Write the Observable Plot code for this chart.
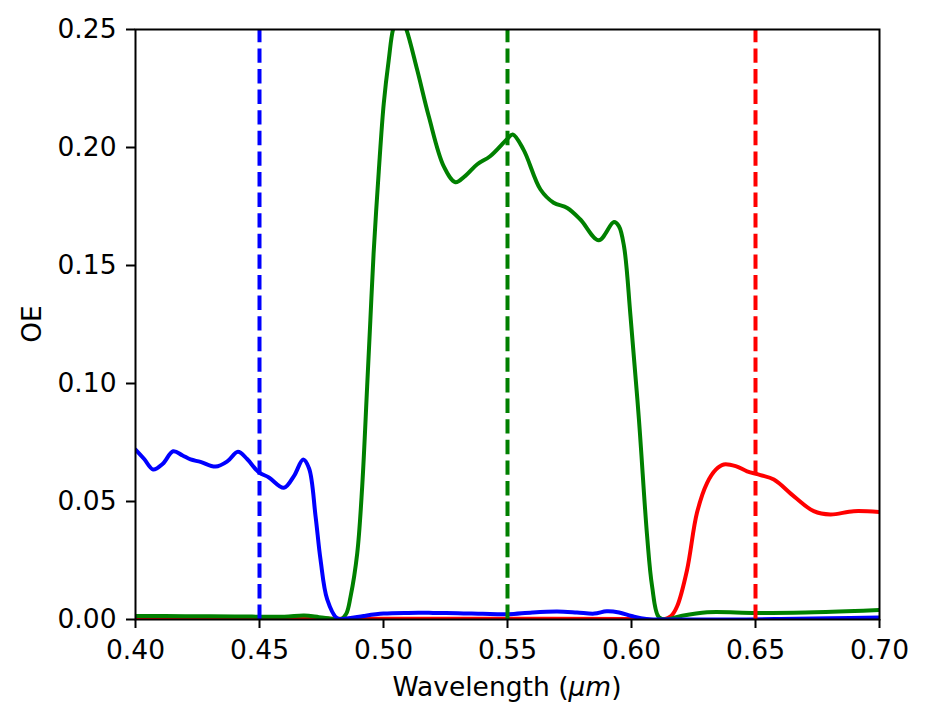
<!DOCTYPE html>
<html>
<head>
<meta charset="utf-8">
<script src="https://cdn.jsdelivr.net/npm/d3@7"></script>
<script src="https://cdn.jsdelivr.net/npm/@observablehq/plot@0.6"></script>
<style>
  html, body { margin: 0; padding: 0; background: #fff; }
</style>
</head>
<body>
<div id="chart"></div>
<script>
// Wavelength (µm) and OE values
const blueX = [0.400,0.4035,0.4071,0.411,0.4152,0.419,0.4222,0.4262,0.4323,0.437,0.4413,0.445,0.4497,0.4538,0.4598,0.464,0.4676,0.4700,0.4726,0.4746,0.4773,0.4813,0.486,0.492,0.500,0.510,0.520,0.530,0.540,0.550,0.560,0.570,0.578,0.585,0.590,0.595,0.600,0.606,0.620,0.640,0.660,0.680,0.700];
const blueY = [0.0720,0.0680,0.0636,0.0660,0.0713,0.0695,0.0678,0.0668,0.0648,0.0670,0.0711,0.0680,0.0624,0.0602,0.0558,0.0610,0.0678,0.0640,0.0438,0.0254,0.0085,0.0005,0.0005,0.0015,0.0025,0.0028,0.0028,0.0027,0.0024,0.0022,0.0030,0.0034,0.0030,0.0025,0.0035,0.0030,0.0015,0.0002,0.0000,0.0000,0.0002,0.0005,0.0008];

const greenX = [0.400,0.420,0.440,0.460,0.468,0.474,0.480,0.4827,0.4850,0.4867,0.4894,0.4914,0.4934,0.4947,0.4960,0.4981,0.5001,0.5021,0.5041,0.5065,0.5089,0.5136,0.5183,0.5243,0.529,0.533,0.5377,0.543,0.5497,0.5521,0.5565,0.5633,0.5686,0.5741,0.5794,0.5868,0.5929,0.5949,0.597,0.5996,0.603,0.6063,0.6083,0.611,0.614,0.620,0.6305,0.650,0.670,0.690,0.700];
const greenY = [0.0015,0.0014,0.0013,0.0012,0.0017,0.0010,0.0002,0.0000,0.0025,0.0096,0.028,0.0562,0.0986,0.1268,0.155,0.190,0.2186,0.237,0.251,0.256,0.251,0.2328,0.213,0.192,0.1853,0.188,0.1928,0.1963,0.2034,0.2055,0.199,0.1822,0.1766,0.1744,0.1695,0.1607,0.1684,0.1667,0.158,0.1285,0.0847,0.0353,0.0141,0.0010,0.0000,0.0015,0.0031,0.0028,0.0030,0.0036,0.0040];

const redX = [0.400,0.450,0.500,0.550,0.600,0.613,0.616,0.6184,0.6224,0.6264,0.6305,0.634,0.6372,0.642,0.6466,0.652,0.6574,0.6655,0.6735,0.6802,0.6896,0.700];
const redY = [0.0003,0.0003,0.0003,0.0003,0.0002,0.0000,0.0015,0.0056,0.021,0.0452,0.0579,0.0635,0.0657,0.0650,0.0628,0.0612,0.0593,0.0522,0.0459,0.0445,0.0459,0.0455];

const targetWavelengths = [0.45, 0.55, 0.65];
const targetColors = ["blue", "green", "red"];

const xTicks = [0.40, 0.45, 0.50, 0.55, 0.60, 0.65, 0.70];
const yTicks = [0.00, 0.05, 0.10, 0.15, 0.20, 0.25];

const toRows = (xs, ys) => xs.map((x, i) => ({x, y: ys[i]}));
const blue = toRows(blueX, blueY);
const green = toRows(greenX, greenY);
const red = toRows(redX, redY);
const targets = targetWavelengths.map((w, i) => ({w, c: targetColors[i]}));

const W = 928, H = 723;
const mL = 135, mR = 49, mT = 29, mB = 104;
const FS = 26.5;

const chart = Plot.plot({
  width: W,
  height: H,
  marginLeft: mL,
  marginRight: mR,
  marginTop: mT,
  marginBottom: mB,
  style: {fontFamily: "DejaVu Sans", fontSize: FS + "px", color: "black", background: "white"},
  x: {domain: [0.40, 0.70], label: null},
  y: {domain: [0, 0.25], label: null},
  marks: [
    Plot.lineY(red, {x: "x", y: "y", stroke: "#ff0000", strokeWidth: 4, curve: "catmull-rom", clip: true}),
    Plot.lineY(green, {x: "x", y: "y", stroke: "#008000", strokeWidth: 4, curve: "catmull-rom", clip: true}),
    Plot.lineY(blue, {x: "x", y: "y", stroke: "#0000ff", strokeWidth: 4, curve: "catmull-rom", clip: true}),
    Plot.ruleX(targets, {x: "w", y1: 0, y2: 0.25, stroke: d => d.c, strokeWidth: 4, strokeDasharray: "14.4,6.2"}),
    Plot.frame({stroke: "black", strokeWidth: 2}),
    Plot.axisX({ticks: xTicks, tickFormat: d3.format(".2f"), tickSize: 9, tickPadding: 12, strokeWidth: 2, label: null}),
    Plot.axisY({ticks: yTicks, tickFormat: d3.format(".2f"), tickSize: 9, tickPadding: 10, strokeWidth: 2, label: null})
  ]
});

const svg = d3.select(chart);
svg.append("text")
  .attr("x", mL + (W - mL - mR) / 2)
  .attr("y", 696)
  .attr("text-anchor", "middle")
  .attr("font-family", "DejaVu Sans")
  .attr("font-size", FS)
  .attr("fill", "black")
  .call(t => {
    t.append("tspan").text("Wavelength (");
    t.append("tspan").attr("font-style", "italic").text("μm");
    t.append("tspan").text(")");
  });
svg.append("text")
  .attr("transform", `translate(40.5, ${mT + (H - mT - mB) / 2}) rotate(-90)`)
  .attr("text-anchor", "middle")
  .attr("font-family", "DejaVu Sans")
  .attr("font-size", FS)
  .attr("fill", "black")
  .text("OE");

document.getElementById("chart").appendChild(chart);
</script>
</body>
</html>
